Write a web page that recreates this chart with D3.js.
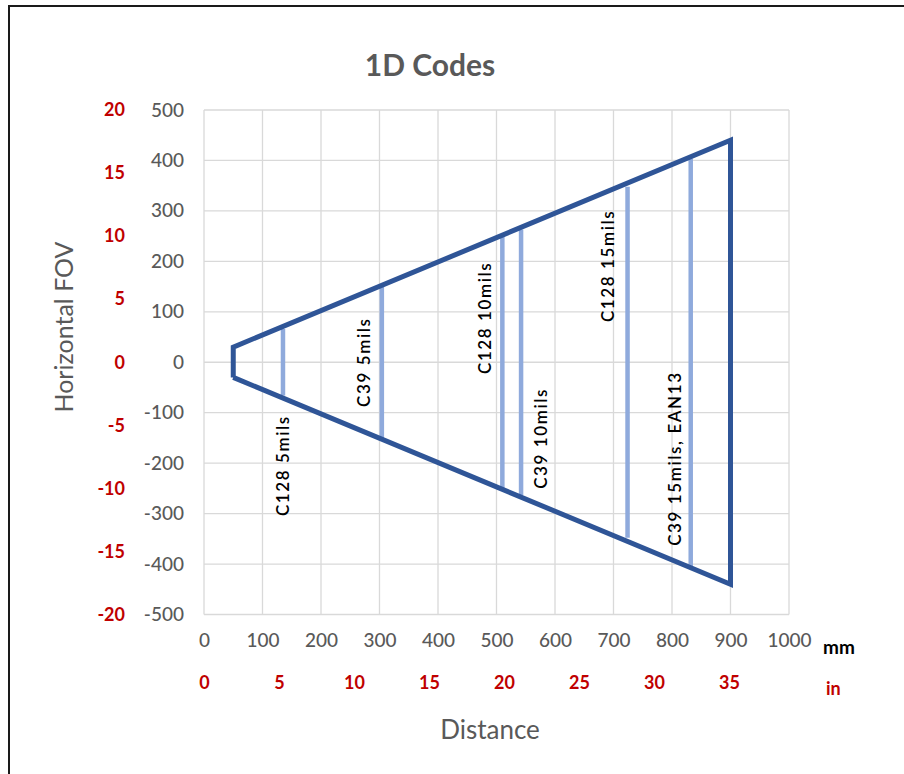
<!DOCTYPE html>
<html>
<head>
<meta charset="utf-8">
<script src="https://cdn.jsdelivr.net/npm/d3@7/dist/d3.min.js"></script>
<style>
  body { margin: 0; background: #fff; }
  text { font-family: Lato, "Open Sans", sans-serif; }
</style>
</head>
<body>
<div id="chart"></div>
<script>
// reading field: near and far edge of the field of view
var fovDistance = [50, 900];
var fovHalfWidth = [30, 440];

// barcode reading ranges
var codeNames = ["C128 5mils", "C39 5mils", "C128 10mils", "C39 10mils", "C128 15mils", "C39 15mils, EAN13"];
var codeDistance = [135, 304, 510, 542, 724, 832];
var codeHalfWidth = [66, 152, 251, 263, 348, 404];
// where each label sits (mm, FOV)
var labelDistance = [135, 273, 480, 576, 690, 804];
var labelFov = [-205, 0, 88, -151, 191, -191];

var mmTicks = [0, 100, 200, 300, 400, 500, 600, 700, 800, 900, 1000];
var fovTicks = [-500, -400, -300, -200, -100, 0, 100, 200, 300, 400, 500];
var inchXTicks = [0, 5, 10, 15, 20, 25, 30, 35];
var inchYTicks = [-20, -15, -10, -5, 0, 5, 10, 15, 20];

var width = 904, height = 774;
var margin = { top: 110, right: 115, bottom: 159.5, left: 204 };

var svg = d3.select("#chart").append("svg")
    .attr("width", width)
    .attr("height", height);

// frame
svg.append("path")
    .attr("d", "M9,774V6H904")
    .attr("fill", "none")
    .attr("stroke", "#1a1a1a")
    .attr("stroke-width", 2);

var x = d3.scaleLinear().domain([0, 1000]).range([margin.left, width - margin.right]);
var y = d3.scaleLinear().domain([-500, 500]).range([height - margin.bottom, margin.top]);
var xIn = d3.scaleLinear().domain([0, 39]).range(x.range());
var yIn = d3.scaleLinear().domain([-20, 20]).range(y.range());

// grid
svg.append("g").selectAll("line").data(mmTicks).enter().append("line")
    .attr("x1", function(d) { return x(d); })
    .attr("x2", function(d) { return x(d); })
    .attr("y1", y(-500)).attr("y2", y(500))
    .attr("stroke", "#d9d9d9").attr("stroke-width", 1.3);
svg.append("g").selectAll("line").data(fovTicks).enter().append("line")
    .attr("y1", function(d) { return y(d); })
    .attr("y2", function(d) { return y(d); })
    .attr("x1", x(0)).attr("x2", x(1000))
    .attr("stroke", "#d9d9d9").attr("stroke-width", 1.3);

// axes drawn with d3 axes, domain and ticks hidden
var plain = function(d) { return String(d); };
function styleAxis(g, color, size, weight) {
  g.select(".domain").remove();
  g.selectAll(".tick line").remove();
  g.selectAll("text")
      .attr("fill", color)
      .style("font-size", size + "px")
      .style("font-weight", weight)
      .style("font-family", "Lato, 'Open Sans', sans-serif");
}

svg.append("g")
    .attr("transform", "translate(" + (x(0) - 20) + ",0)")
    .call(d3.axisLeft(y).tickValues(fovTicks).tickFormat(plain).tickSize(0).tickPadding(0))
    .call(styleAxis, "#595959", 19, 500);

svg.append("g")
    .attr("transform", "translate(" + (x(0) - 79) + ",0)")
    .call(d3.axisLeft(yIn).tickValues(inchYTicks).tickFormat(plain).tickSize(0).tickPadding(0))
    .call(styleAxis, "#c00000", 18, 700);

svg.append("g")
    .attr("transform", "translate(0," + (y(-500) + 19) + ")")
    .call(d3.axisBottom(x).tickValues(mmTicks).tickFormat(plain).tickSize(0).tickPadding(0))
    .call(styleAxis, "#595959", 19, 500);

svg.append("g")
    .attr("transform", "translate(0," + (y(-500) + 62) + ")")
    .call(d3.axisBottom(xIn).tickValues(inchXTicks).tickFormat(plain).tickSize(0).tickPadding(0))
    .call(styleAxis, "#c00000", 18, 700);

svg.append("text").attr("x", 823).attr("y", 654)
    .attr("fill", "#000").style("font-size", "19px").style("font-weight", 700)
    .text("mm");
svg.append("text").attr("x", 826).attr("y", 695)
    .attr("fill", "#c00000").style("font-size", "18px").style("font-weight", 700)
    .text("in");

// titles
svg.append("text").attr("x", 430).attr("y", 76)
    .attr("text-anchor", "middle")
    .attr("fill", "#595959").style("font-size", "30px").style("font-weight", 700)
    .text("1D Codes");
svg.append("text").attr("x", 490).attr("y", 739)
    .attr("text-anchor", "middle")
    .attr("fill", "#595959").style("font-size", "26px")
    .text("Distance");
svg.append("text")
    .attr("transform", "translate(73,327) rotate(-90)")
    .attr("text-anchor", "middle")
    .attr("fill", "#595959").style("font-size", "25px")
    .text("Horizontal FOV");

// code bars
var codes = codeNames.map(function(n, i) {
  return { name: n, d: codeDistance[i], h: codeHalfWidth[i], ld: labelDistance[i], lf: labelFov[i] };
});

svg.append("g").selectAll("line").data(codes).enter().append("line")
    .attr("x1", function(d) { return x(d.d); })
    .attr("x2", function(d) { return x(d.d); })
    .attr("y1", function(d) { return y(d.h); })
    .attr("y2", function(d) { return y(-d.h); })
    .attr("stroke", "#8faadc").attr("stroke-width", 4.5);

// field of view outline
var outline = [
  [fovDistance[0], -fovHalfWidth[0]],
  [fovDistance[0], fovHalfWidth[0]],
  [fovDistance[1], fovHalfWidth[1]],
  [fovDistance[1], -fovHalfWidth[1]],
  [fovDistance[0], -fovHalfWidth[0]]
];
svg.append("path")
    .datum(outline)
    .attr("d", d3.line().x(function(d) { return x(d[0]); }).y(function(d) { return y(d[1]); }))
    .attr("fill", "none")
    .attr("stroke", "#2f5597")
    .attr("stroke-width", 5)
    .attr("stroke-linejoin", "miter");

// labels
svg.append("g").selectAll("text").data(codes).enter().append("text")
    .attr("transform", function(d) { return "translate(" + x(d.ld) + "," + y(d.lf) + ") rotate(-90)"; })
    .attr("text-anchor", "middle")
    .attr("dominant-baseline", "central")
    .attr("fill", "#000")
    .style("font-size", "17px")
    .style("font-weight", 600)
    .style("letter-spacing", "1.6px")
    .text(function(d) { return d.name; });
</script>
</body>
</html>
